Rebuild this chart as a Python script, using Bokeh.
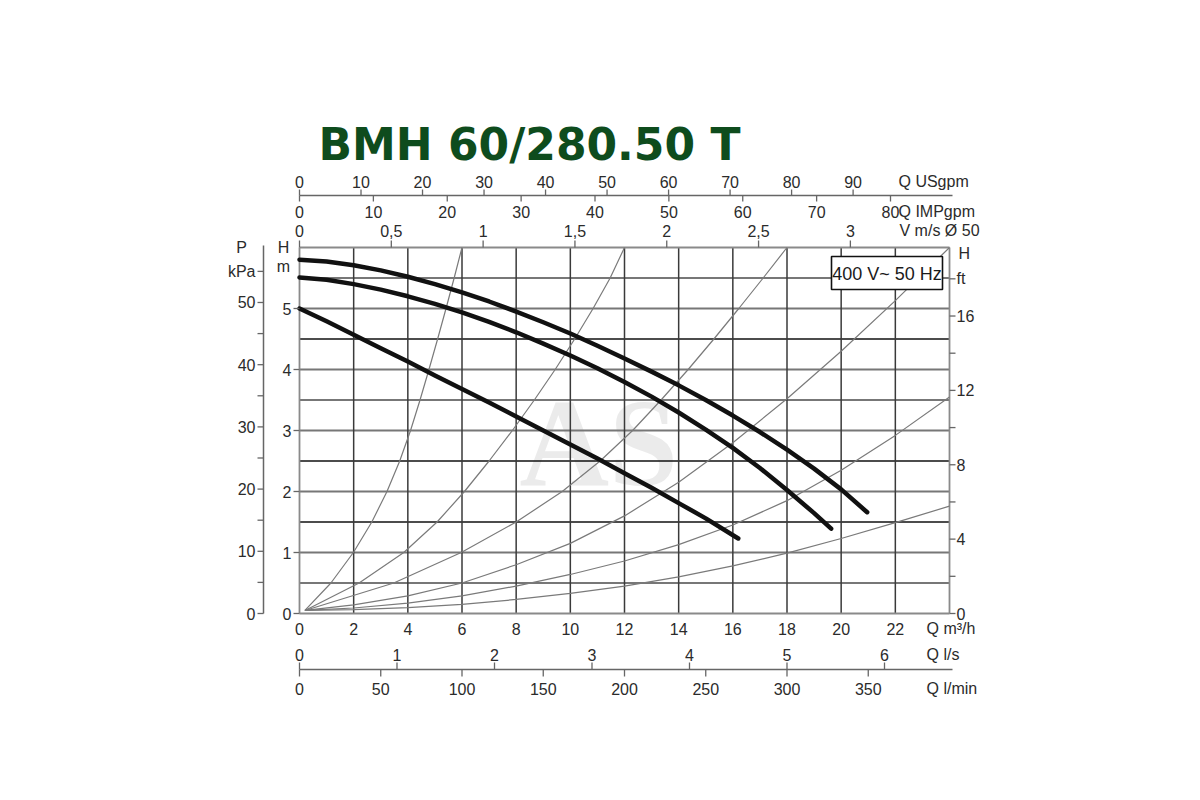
from bokeh.core.properties import value
from bokeh.embed import file_html
from bokeh.models import Range1d
from bokeh.plotting import figure
from bokeh.resources import INLINE

# pump curves (Q m3/h, H m)
pump1_q = [0, 1, 2, 3, 4, 5, 6, 7, 8, 9, 10, 11, 12, 13, 14, 15, 16, 17, 18, 19, 20, 20.96]
pump1_h = [5.80, 5.77, 5.71, 5.625, 5.52, 5.40, 5.265, 5.115, 4.95, 4.775, 4.59, 4.39, 4.18,
           3.965, 3.74, 3.50, 3.245, 2.975, 2.685, 2.375, 2.035, 1.66]
pump2_q = [0, 1, 2, 3, 4, 5, 6, 7, 8, 9, 10, 11, 12, 13, 14, 15, 16, 17, 18, 19, 19.63]
pump2_h = [5.51, 5.47, 5.40, 5.31, 5.20, 5.075, 4.935, 4.78, 4.61, 4.425, 4.23, 4.02, 3.795,
           3.555, 3.295, 3.015, 2.715, 2.385, 2.025, 1.645, 1.39]
pump3_q = [0, 1, 2, 3, 4, 5, 6, 7, 8, 9, 10, 11, 12, 13, 14, 15, 16.2]
pump3_h = [5.00, 4.79, 4.57, 4.35, 4.13, 3.90, 3.68, 3.46, 3.23, 3.00, 2.77, 2.54, 2.30,
           2.06, 1.81, 1.56, 1.23]

# thin system curves
sys_h = [0.05, 0.5, 1.0, 1.5, 2.0, 2.5, 3.0, 3.5, 4.0, 4.5, 5.0, 5.5, 6.0]
sysA_q = [0.2, 1.16, 1.99, 2.67, 3.23, 3.70, 4.10, 4.45, 4.78, 5.10, 5.41, 5.71, 6.00]
sysB_q = [0.2, 2.2, 3.85, 5.08, 6.09, 7.0, 7.86, 8.67, 9.44, 10.16, 10.84, 11.47, 12.0]
sysC_q = [0.2, 3.48, 5.97, 8.0, 9.7, 11.1, 12.3, 13.35, 14.35, 15.3, 16.22, 17.12, 18.0]
sys_q = [0.2, 2, 4, 6, 8, 10, 12, 14, 16, 18, 20, 22, 24]
sysD_h = [0.05, 0.14, 0.29, 0.5, 0.8, 1.15, 1.6, 2.15, 2.8, 3.52, 4.3, 5.13, 6.0]
sysE_h = [0.05, 0.09, 0.17, 0.29, 0.45, 0.64, 0.86, 1.13, 1.45, 1.85, 2.35, 2.92, 3.55]
sysF_h = [0.05, 0.065, 0.095, 0.15, 0.23, 0.33, 0.45, 0.6, 0.78, 0.99, 1.23, 1.49, 1.76]

# axes
q_ticks = [0, 2, 4, 6, 8, 10, 12, 14, 16, 18, 20, 22]
h_ticks = [0, 1, 2, 3, 4, 5]
kpa_ticks = [0, 5, 10, 15, 20, 25, 30, 35, 40, 45, 50, 55]
kpa_labels = ["0", "", "10", "", "20", "", "30", "", "40", "", "50", "kPa"]
ft_ticks = [0, 2, 4, 6, 8, 10, 12, 14, 16, 18]
ft_labels = ["0", "", "4", "", "8", "", "12", "", "16", "ft"]
usgpm_ticks = [0, 10, 20, 30, 40, 50, 60, 70, 80, 90]
impgpm_ticks = [0, 10, 20, 30, 40, 50, 60, 70, 80]
vms_ticks = [0, 0.5, 1, 1.5, 2, 2.5, 3]
vms_labels = ["0", "0,5", "1", "1,5", "2", "2,5", "3"]
ls_ticks = [0, 1, 2, 3, 4, 5, 6]
lmin_ticks = [0, 50, 100, 150, 200, 250, 300, 350]

M3H_PER_USGPM = 0.22712
M3H_PER_IMPGPM = 0.27277
M3H_PER_MS = 6.78  # pipe 50
M3H_PER_LS = 3.6
M3H_PER_LMIN = 0.06
M_PER_KPA = 1 / 9.80665
M_PER_FT = 0.3048

W, H = 1184, 784
LEFT, RIGHT, TOP, BOTTOM = 299, 949, 247, 613  # frame in canvas pixels
Q_END, H_END = 24, 6
KX = (RIGHT - LEFT) / Q_END
KY = (BOTTOM - TOP) / H_END


def qx(px):
    return (px - LEFT) / KX


def hy(py):
    return (BOTTOM - py) / KY


p = figure(width=W, height=H, x_range=Range1d(qx(0), qx(W)), y_range=Range1d(hy(H), hy(0)),
           x_axis_type=None, y_axis_type=None, toolbar_location=None, output_backend="svg",
           min_border=0, outline_line_color=None)
p.grid.visible = False

FONT = "Liberation Sans"
TXT = "#2b2b2b"
AX = "#666666"


def txt(xs, ys, texts, align="center", baseline="middle", size="16px", color=TXT, font=FONT, style="normal"):
    p.text(x=xs, y=ys, text=texts, text_align=align, text_baseline=baseline, text_font_size=size,
           text_color=color, text_font=value(font), text_font_style=style)


# watermark
txt([qx(519)], [hy(443)], ["AS"], align="left", baseline="alphabetic", size="124px",
    color="#ebebeb", font="Liberation Serif", style="bold")

# grid
h_lines = [0.5, 1, 1.5, 2, 2.5, 3, 3.5, 4, 4.5, 5, 5.5]
dark_h = [1.5, 2.5, 4.5]
for hv in h_lines:
    if hv in dark_h:
        p.segment(x0=0, y0=hv, x1=Q_END, y1=hv, line_color="#111111", line_width=1.3)
    else:
        p.segment(x0=0, y0=hv, x1=Q_END, y1=hv, line_color="#777777", line_width=1.8)
v_lines = q_ticks[1:]
p.segment(x0=v_lines, y0=[0] * len(v_lines), x1=v_lines, y1=[H_END] * len(v_lines),
          line_color="#3a3a3a", line_width=1.5)
p.segment(x0=[0, Q_END], y0=[0, 0], x1=[0, Q_END], y1=[H_END, H_END], line_color="#8a8a8a", line_width=1.8)
p.segment(x0=[0, 0], y0=[0, H_END], x1=[Q_END, Q_END], y1=[0, H_END], line_color="#8a8a8a", line_width=1.8)

# system curves
for sq, sh in [(sysA_q, sys_h), (sysB_q, sys_h), (sysC_q, sys_h),
               (sys_q, sysD_h), (sys_q, sysE_h), (sys_q, sysF_h)]:
    p.line(sq, sh, line_color="#7a7a7a", line_width=1.2)

# pump curves
for pq, ph in [(pump1_q, pump1_h), (pump2_q, pump2_h), (pump3_q, pump3_h)]:
    p.line(pq, ph, line_color="#111111", line_width=4.5, line_cap="round", line_join="round")

# left: H m
p.segment(x0=[qx(293)] * len(h_ticks), y0=h_ticks, x1=[0] * len(h_ticks), y1=h_ticks, line_color=AX, line_width=1.3)
txt([qx(291)] * len(h_ticks), h_ticks, [str(t) for t in h_ticks], align="right")
txt([qx(283), qx(283)], [hy(247), hy(266)], ["H", "m"])

# left: P kPa
kpa_h = [k * M_PER_KPA for k in kpa_ticks]
p.segment(x0=qx(263), y0=hy(245), x1=qx(263), y1=0, line_color=AX, line_width=1.5)
p.segment(x0=[qx(257)] * len(kpa_h), y0=kpa_h, x1=[qx(263)] * len(kpa_h), y1=kpa_h, line_color=AX, line_width=1.3)
txt([qx(255)] * len(kpa_h), kpa_h, kpa_labels, align="right")
txt([qx(241)], [hy(247)], ["P"])

# right: H ft
ft_h = [f * M_PER_FT for f in ft_ticks]
p.segment(x0=[Q_END] * len(ft_h), y0=ft_h, x1=[qx(955)] * len(ft_h), y1=ft_h, line_color=AX, line_width=1.3)
txt([qx(956)] * len(ft_h), ft_h, ft_labels, align="left")
txt([qx(958)], [hy(253)], ["H"], align="left")

# bottom: Q m3/h
txt(q_ticks, [hy(628)] * len(q_ticks), [str(t) for t in q_ticks])
txt([qx(926)], [hy(628)], ["Q m\u00b3/h"], align="left")

# bottom: Q l/s and Q l/min
p.segment(x0=0, y0=hy(669), x1=qx(952), y1=hy(669), line_color=AX, line_width=1.5)
ls_q = [v * M3H_PER_LS for v in ls_ticks]
p.segment(x0=ls_q, y0=[hy(669)] * len(ls_q), x1=ls_q, y1=[hy(662)] * len(ls_q), line_color=AX, line_width=1.3)
txt(ls_q, [hy(654)] * len(ls_q), [str(v) for v in ls_ticks])
lmin_q = [v * M3H_PER_LMIN for v in lmin_ticks]
p.segment(x0=lmin_q, y0=[hy(669)] * len(lmin_q), x1=lmin_q, y1=[hy(676)] * len(lmin_q), line_color=AX, line_width=1.3)
txt(lmin_q, [hy(688)] * len(lmin_q), [str(v) for v in lmin_ticks])
txt([qx(926), qx(926)], [hy(654), hy(688)], ["Q l/s", "Q l/min"], align="left")

# top: Q USgpm and Q IMPgpm
p.segment(x0=0, y0=hy(195), x1=qx(952), y1=hy(195), line_color=AX, line_width=1.5)
us_q = [v * M3H_PER_USGPM for v in usgpm_ticks]
p.segment(x0=us_q, y0=[hy(195)] * len(us_q), x1=us_q, y1=[hy(189)] * len(us_q), line_color=AX, line_width=1.3)
txt(us_q, [hy(181)] * len(us_q), [str(v) for v in usgpm_ticks])
imp_q = [v * M3H_PER_IMPGPM for v in impgpm_ticks]
p.segment(x0=imp_q, y0=[hy(195)] * len(imp_q), x1=imp_q, y1=[hy(201)] * len(imp_q), line_color=AX, line_width=1.3)
txt(imp_q, [hy(211)] * len(imp_q), [str(v) for v in impgpm_ticks])
txt([qx(898), qx(898)], [hy(181), hy(211)], ["Q USgpm", "Q IMPgpm"], align="left")

# top: V m/s
v_q = [v * M3H_PER_MS for v in vms_ticks]
p.segment(x0=v_q, y0=[H_END] * len(v_q), x1=v_q, y1=[hy(240)] * len(v_q), line_color=AX, line_width=1.3)
txt(v_q, [hy(230)] * len(v_q), vms_labels)
txt([qx(899)], [hy(230)], ["V m/s \u00d8 50"], align="left")

# supply box
p.quad(left=qx(831), right=qx(942), top=hy(256), bottom=hy(289), fill_color="white",
       line_color="#111111", line_width=1.6)
txt([qx(886.5)], [hy(273)], ["400 V~ 50 Hz"], size="18px", color="#1a1a1a")

# title
txt([qx(318)], [hy(144)], ["BMH 60/280.50 T"], align="left", baseline="alphabetic", size="44px",
    color="#0e4c1d", font="DejaVu Sans", style="bold")

open("out.html", "w").write(file_html(p, INLINE))
